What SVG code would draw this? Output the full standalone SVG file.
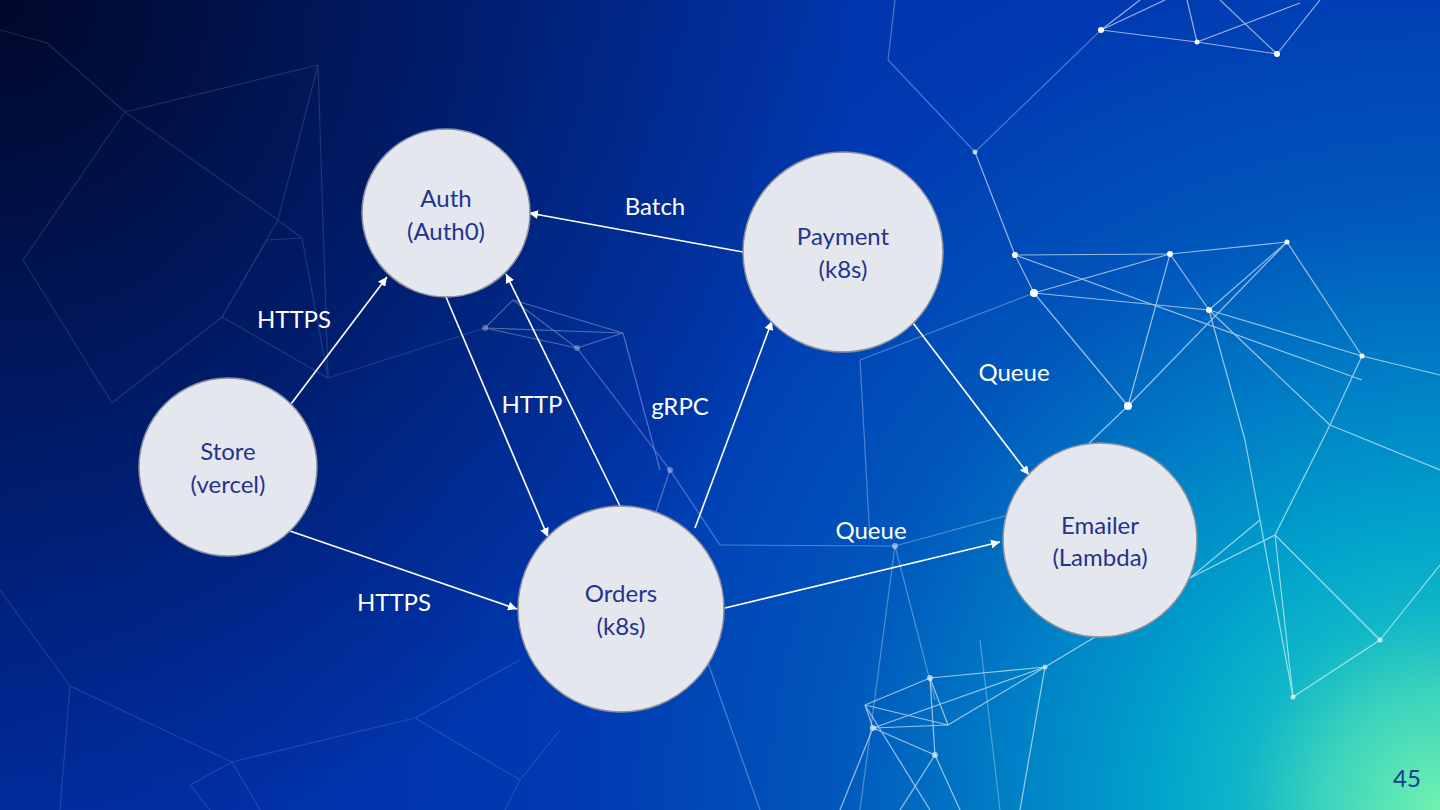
<svg xmlns="http://www.w3.org/2000/svg" width="1440" height="810" viewBox="0 0 1440 810">
  <defs>
    <radialGradient id="bg" gradientUnits="userSpaceOnUse" cx="1440" cy="810" r="1650">
      <stop offset="0" stop-color="#70f2b0"/>
      <stop offset="0.07" stop-color="#3cd4bc"/>
      <stop offset="0.12" stop-color="#10b6c8"/>
      <stop offset="0.18" stop-color="#00a0cb"/>
      <stop offset="0.26" stop-color="#0080c6"/>
      <stop offset="0.37" stop-color="#0056bc"/>
      <stop offset="0.52" stop-color="#003ab2"/>
      <stop offset="0.73" stop-color="#0030a8"/>
      <stop offset="1" stop-color="#002a9c"/>
    </radialGradient>
    <radialGradient id="dark" gradientUnits="userSpaceOnUse" cx="0" cy="0" r="860">
      <stop offset="0" stop-color="#00082a" stop-opacity="1"/>
      <stop offset="0.4" stop-color="#00082a" stop-opacity="0.6"/>
      <stop offset="1" stop-color="#00082a" stop-opacity="0"/>
    </radialGradient>
    <marker id="arrow" viewBox="0 0 10 10" refX="10" refY="5" markerWidth="9" markerHeight="9" markerUnits="userSpaceOnUse" orient="auto">
      <path d="M0,0 L10,5 L0,10 z" fill="#ffffff"/>
    </marker>
    <style>
      .node circle { fill: #e4e7ee; stroke: #8c909c; stroke-width: 1.5; }
      .node text { font-family: Lato, "Open Sans", sans-serif; font-size: 24px; fill: #24348c; text-anchor: middle; font-weight: 400; }
      .edge { stroke: #ffffff; stroke-width: 1.6; fill: none; marker-end: url(#arrow); }
      .lbl { font-family: Lato, "Open Sans", sans-serif; font-size: 24px; fill: #ffffff; text-anchor: middle; font-weight: 400; }
      .net line { stroke: #ffffff; stroke-width: 1.2; }
      .dim { opacity: 0.12; }
      .mid { opacity: 0.3; }
      .bright { opacity: 0.6; }
      .net circle { fill: #ffffff; }
    </style>
  </defs>

  <rect x="0" y="0" width="1440" height="810" fill="url(#bg)"/>
  <rect x="0" y="0" width="1440" height="810" fill="url(#dark)"/>

  <!-- decorative network background -->
  <g id="background-network" class="net">
    <g class="dim">
      <line x1="0" y1="30" x2="47" y2="43"/>
      <line x1="47" y1="43" x2="125" y2="112"/>
      <line x1="125" y1="112" x2="278" y2="220"/>
      <line x1="125" y1="112" x2="23" y2="260"/>
      <line x1="23" y1="260" x2="112" y2="403"/>
      <line x1="112" y1="403" x2="222" y2="317"/>
      <line x1="222" y1="317" x2="278" y2="220"/>
      <line x1="278" y1="220" x2="302" y2="238"/>
      <line x1="267" y1="240" x2="302" y2="238"/>
      <line x1="318" y1="65" x2="278" y2="220"/>
      <line x1="318" y1="65" x2="328" y2="378"/>
      <line x1="222" y1="317" x2="328" y2="378"/>
      <line x1="125" y1="112" x2="318" y2="65"/>
      <line x1="328" y1="378" x2="485" y2="328"/>
      <line x1="267" y1="240" x2="222" y2="317"/>
      <line x1="302" y1="238" x2="328" y2="378"/>
      <line x1="0" y1="590" x2="70" y2="686"/>
      <line x1="70" y1="686" x2="232" y2="762"/>
      <line x1="190" y1="785" x2="232" y2="762"/>
      <line x1="232" y1="762" x2="260" y2="810"/>
      <line x1="190" y1="785" x2="210" y2="810"/>
      <line x1="232" y1="762" x2="415" y2="718"/>
      <line x1="415" y1="718" x2="520" y2="780"/>
      <line x1="415" y1="718" x2="520" y2="660"/>
      <line x1="520" y1="780" x2="505" y2="810"/>
      <line x1="520" y1="780" x2="560" y2="730"/>
      <line x1="70" y1="686" x2="60" y2="810"/>
    </g>
    <g class="mid">
      <line x1="485" y1="328" x2="513" y2="300"/>
      <line x1="513" y1="300" x2="623" y2="333"/>
      <line x1="485" y1="328" x2="623" y2="333"/>
      <line x1="485" y1="328" x2="577" y2="348"/>
      <line x1="513" y1="300" x2="577" y2="348"/>
      <line x1="577" y1="348" x2="623" y2="333"/>
      <line x1="577" y1="348" x2="670" y2="470"/>
      <line x1="623" y1="333" x2="660" y2="470"/>
      <line x1="670" y1="470" x2="720" y2="545"/>
      <line x1="670" y1="470" x2="640" y2="560"/>
      <line x1="720" y1="545" x2="895" y2="546"/>
      <line x1="895" y1="546" x2="1045" y2="505"/>
      <line x1="895" y1="546" x2="860" y2="810"/>
      <line x1="895" y1="546" x2="935" y2="700"/>
      <line x1="860" y1="360" x2="1034" y2="293"/>
      <line x1="860" y1="360" x2="870" y2="540"/>
      <line x1="888" y1="60" x2="975" y2="152"/>
      <line x1="888" y1="60" x2="895" y2="0"/>
      <line x1="975" y1="152" x2="1101" y2="30"/>
      <line x1="700" y1="640" x2="760" y2="810"/>
      <line x1="980" y1="640" x2="1000" y2="810"/>
    </g>
    <g class="bright">
      <line x1="1101" y1="30" x2="1197" y2="42"/>
      <line x1="1197" y1="42" x2="1277" y2="54"/>
      <line x1="1101" y1="30" x2="1140" y2="0"/>
      <line x1="1101" y1="30" x2="1165" y2="0"/>
      <line x1="1197" y1="42" x2="1187" y2="0"/>
      <line x1="1277" y1="54" x2="1320" y2="0"/>
      <line x1="1197" y1="42" x2="1300" y2="3"/>
      <line x1="1277" y1="54" x2="1220" y2="0"/>
      <line x1="975" y1="152" x2="1015" y2="255"/>
      <line x1="1015" y1="255" x2="1034" y2="293"/>
      <line x1="1015" y1="255" x2="1170" y2="254"/>
      <line x1="1170" y1="254" x2="1287" y2="242"/>
      <line x1="1034" y1="293" x2="1209" y2="310"/>
      <line x1="1034" y1="293" x2="1170" y2="254"/>
      <line x1="1170" y1="254" x2="1209" y2="310"/>
      <line x1="1287" y1="242" x2="1128" y2="406"/>
      <line x1="1287" y1="242" x2="1209" y2="310"/>
      <line x1="1287" y1="242" x2="1362" y2="356"/>
      <line x1="1209" y1="310" x2="1362" y2="356"/>
      <line x1="1015" y1="255" x2="1362" y2="380"/>
      <line x1="1034" y1="293" x2="1128" y2="406"/>
      <line x1="1170" y1="254" x2="1128" y2="406"/>
      <line x1="1362" y1="356" x2="1440" y2="375"/>
      <line x1="1362" y1="356" x2="1330" y2="425"/>
      <line x1="1330" y1="425" x2="1275" y2="535"/>
      <line x1="1275" y1="535" x2="1190" y2="578"/>
      <line x1="1275" y1="535" x2="1380" y2="640"/>
      <line x1="1380" y1="640" x2="1293" y2="697"/>
      <line x1="1293" y1="697" x2="1275" y2="535"/>
      <line x1="1380" y1="640" x2="1440" y2="565"/>
      <line x1="1209" y1="310" x2="1245" y2="440"/>
      <line x1="1245" y1="440" x2="1293" y2="697"/>
      <line x1="1128" y1="406" x2="1040" y2="490"/>
      <line x1="1209" y1="310" x2="1330" y2="425"/>
      <line x1="1330" y1="425" x2="1440" y2="470"/>
      <line x1="1045" y1="667" x2="930" y2="678"/>
      <line x1="930" y1="678" x2="865" y2="705"/>
      <line x1="865" y1="705" x2="873" y2="728"/>
      <line x1="873" y1="728" x2="935" y2="755"/>
      <line x1="930" y1="678" x2="948" y2="725"/>
      <line x1="865" y1="705" x2="948" y2="725"/>
      <line x1="873" y1="728" x2="948" y2="725"/>
      <line x1="930" y1="678" x2="935" y2="755"/>
      <line x1="1045" y1="667" x2="948" y2="725"/>
      <line x1="1045" y1="667" x2="873" y2="728"/>
      <line x1="1045" y1="667" x2="1100" y2="634"/>
      <line x1="935" y1="755" x2="960" y2="810"/>
      <line x1="935" y1="755" x2="900" y2="810"/>
      <line x1="873" y1="728" x2="840" y2="810"/>
      <line x1="865" y1="705" x2="930" y2="810"/>
      <line x1="1045" y1="667" x2="1020" y2="810"/>
      <line x1="1190" y1="578" x2="1260" y2="520"/>
    </g>
    <circle cx="1101" cy="30" r="3"/>
    <circle cx="1197" cy="42" r="2.5"/>
    <circle cx="1277" cy="54" r="3"/>
    <circle cx="975" cy="152" r="2.5" opacity="0.7"/>
    <circle cx="1015" cy="255" r="3"/>
    <circle cx="1034" cy="293" r="4"/>
    <circle cx="1170" cy="254" r="3"/>
    <circle cx="1287" cy="242" r="2.5"/>
    <circle cx="1209" cy="310" r="3"/>
    <circle cx="1362" cy="356" r="2.5"/>
    <circle cx="1128" cy="406" r="4"/>
    <circle cx="1380" cy="640" r="2.5" opacity="0.7"/>
    <circle cx="1293" cy="697" r="2.5" opacity="0.7"/>
    <circle cx="670" cy="470" r="3" opacity="0.35"/>
    <circle cx="577" cy="348" r="3" opacity="0.3"/>
    <circle cx="485" cy="328" r="3" opacity="0.3"/>
    <circle cx="895" cy="546" r="3" opacity="0.5"/>
    <circle cx="930" cy="678" r="3" opacity="0.6"/>
    <circle cx="873" cy="728" r="3" opacity="0.6"/>
    <circle cx="935" cy="755" r="3" opacity="0.6"/>
    <circle cx="1045" cy="667" r="2.5" opacity="0.6"/>
  </g>

  <g id="connectors">
    <line class="edge" x1="291" y1="404" x2="387" y2="277"/>
    <line class="edge" x1="290" y1="531" x2="517" y2="609"/>
    <line class="edge" x1="446" y1="297" x2="548" y2="537"/>
    <line class="edge" x1="620" y1="506" x2="506" y2="274"/>
    <line class="edge" x1="695" y1="528" x2="772" y2="321"/>
    <line class="edge" x1="743" y1="252" x2="529" y2="213"/>
    <line class="edge" x1="913" y1="323" x2="1029" y2="475"/>
    <line class="edge" x1="725" y1="608" x2="1000" y2="542"/>
  </g>

  <g id="edge-labels">
    <text class="lbl" x="294" y="328">HTTPS</text>
    <text class="lbl" x="655" y="215">Batch</text>
    <text class="lbl" x="532" y="413">HTTP</text>
    <text class="lbl" x="680" y="415">gRPC</text>
    <text class="lbl" x="1014" y="381">Queue</text>
    <text class="lbl" x="871" y="539">Queue</text>
    <text class="lbl" x="394" y="611">HTTPS</text>
  </g>

  <g id="node-store" class="node">
    <circle cx="228" cy="467" r="89"/>
    <text x="228" y="460">Store</text>
    <text x="228" y="493">(vercel)</text>
  </g>
  <g id="node-auth" class="node">
    <circle cx="446" cy="213" r="84"/>
    <text x="446" y="207">Auth</text>
    <text x="446" y="240">(Auth0)</text>
  </g>
  <g id="node-payment" class="node">
    <circle cx="843" cy="252" r="100"/>
    <text x="843" y="245">Payment</text>
    <text x="843" y="278">(k8s)</text>
  </g>
  <g id="node-orders" class="node">
    <circle cx="621" cy="609" r="103"/>
    <text x="621" y="602">Orders</text>
    <text x="621" y="635">(k8s)</text>
  </g>
  <g id="node-emailer" class="node">
    <circle cx="1100" cy="540" r="97"/>
    <text x="1100" y="534">Emailer</text>
    <text x="1100" y="566">(Lambda)</text>
  </g>

  <text x="1407" y="787" font-family="Lato, 'Open Sans', sans-serif" font-size="24" font-weight="400" fill="#1b3a8c" text-anchor="middle">45</text>
</svg>
